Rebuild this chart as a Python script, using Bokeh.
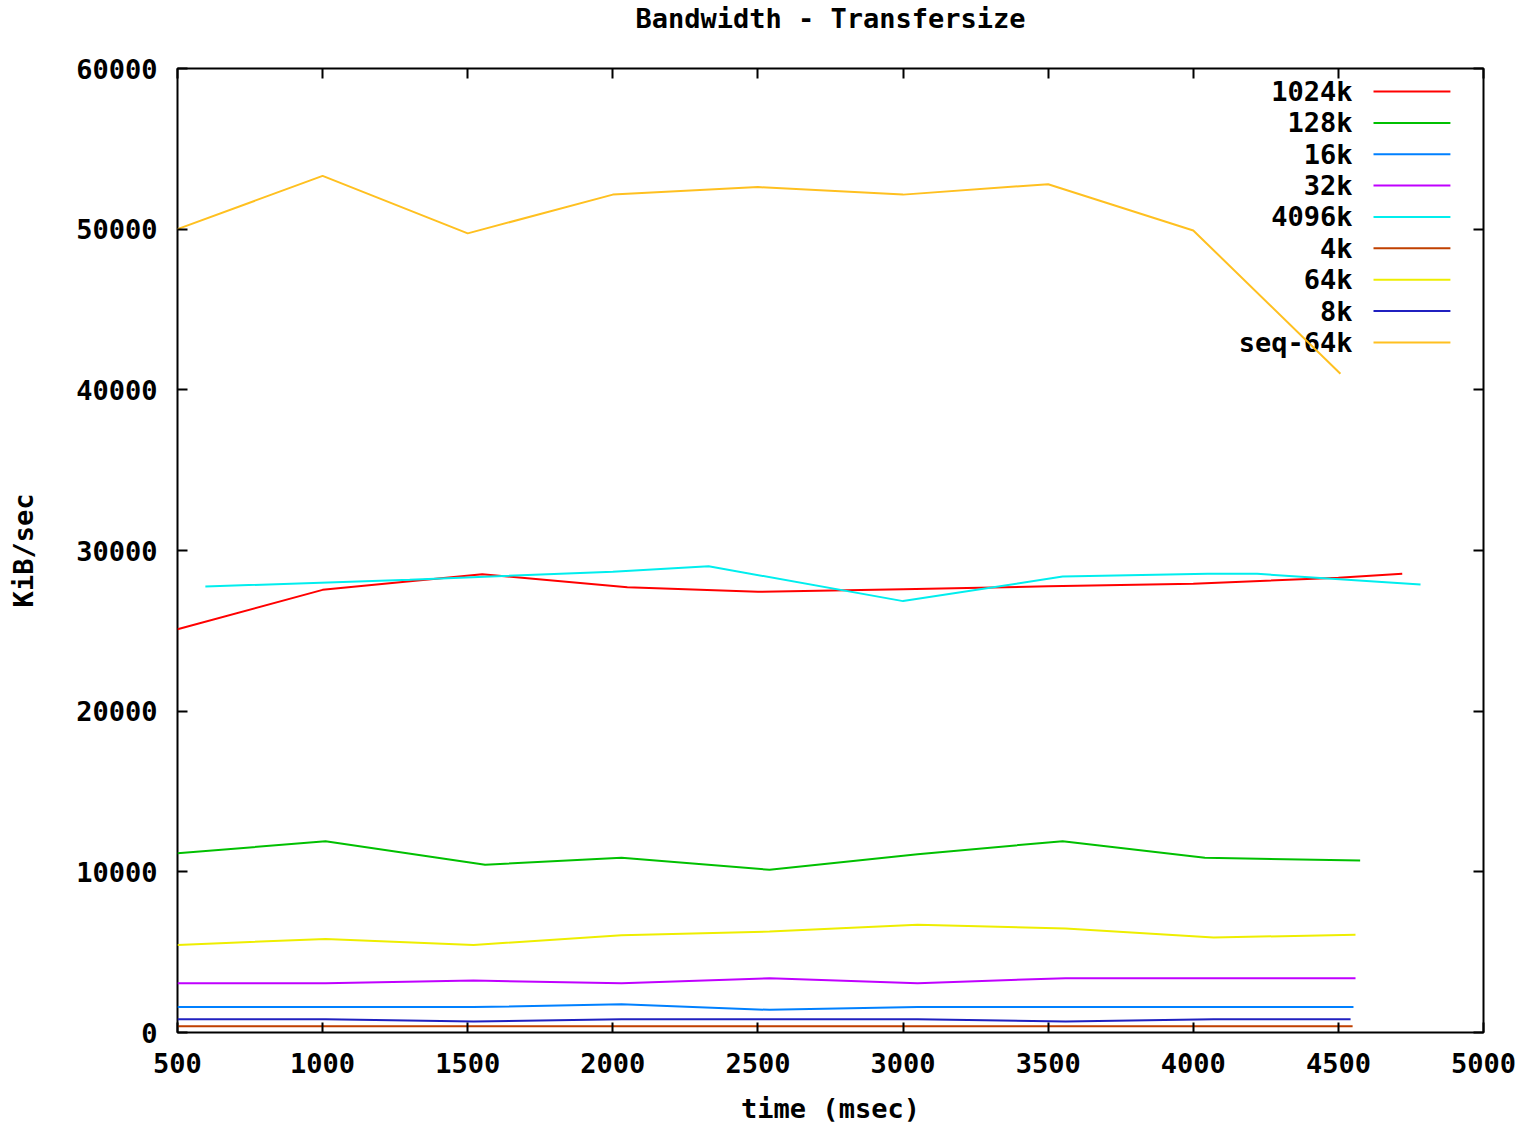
from bokeh.plotting import figure
from bokeh.models import LinearAxis, FixedTicker, Range1d
from bokeh.embed import file_html
from bokeh.resources import INLINE
from bokeh.core.properties import value

# Bandwidth per transfer size, KiB/sec over elapsed time (msec)
series_names = ["1024k", "128k", "16k", "32k", "4096k", "4k", "64k", "8k", "seq-64k"]
series_colors = ["#ff0000", "#00c000", "#0080ff", "#c000ff", "#00eeee",
                 "#c04000", "#eeee00", "#2020c0", "#ffc020"]

t_1024k = [500, 1000, 1550, 2050, 2500, 3000, 3500, 4000, 4500, 4720]
v_1024k = [25100, 27550, 28520, 27720, 27430, 27590, 27770, 27930, 28300, 28550]

t_128k = [500, 1010, 1560, 2030, 2540, 3050, 3550, 4040, 4575]
v_128k = [11150, 11910, 10440, 10870, 10130, 11100, 11910, 10870, 10700]

t_16k = [500, 1010, 1520, 2030, 2540, 3050, 3560, 4070, 4552]
v_16k = [1580, 1580, 1580, 1760, 1410, 1580, 1580, 1580, 1580]

t_32k = [500, 1010, 1520, 2030, 2540, 3050, 3560, 4070, 4559]
v_32k = [3070, 3070, 3230, 3070, 3380, 3070, 3380, 3380, 3380]

t_4096k = [596, 1300, 2000, 2330, 3000, 3550, 4050, 4220, 4783]
v_4096k = [27760, 28180, 28680, 29020, 26850, 28380, 28550, 28550, 27880]

t_4k = [500, 1010, 1520, 2030, 2540, 3050, 3560, 4070, 4549]
v_4k = [390, 390, 390, 390, 390, 390, 390, 390, 390]

t_64k = [500, 1010, 1520, 2030, 2540, 3050, 3560, 4070, 4559]
v_64k = [5450, 5820, 5450, 6050, 6280, 6700, 6470, 5910, 6090]

t_8k = [500, 1010, 1520, 2030, 2540, 3050, 3560, 4070, 4542]
v_8k = [830, 830, 685, 830, 830, 830, 685, 830, 830]

t_seq64k = [500, 1000, 1500, 2000, 2500, 3000, 3500, 4000, 4507]
v_seq64k = [50000, 53320, 49740, 52150, 52620, 52150, 52800, 49920, 41000]

x_ticks = list(range(500, 5001, 500))
y_ticks = list(range(0, 60001, 10000))

times = [t_1024k, t_128k, t_16k, t_32k, t_4096k, t_4k, t_64k, t_8k, t_seq64k]
values = [v_1024k, v_128k, v_16k, v_32k, v_4096k, v_4k, v_64k, v_8k, v_seq64k]

FONT = "DejaVu Sans Mono"
FSIZE = "27px"

p = figure(width=1528, height=1126, output_backend="svg", toolbar_location=None,
           x_range=Range1d(500, 5000), y_range=Range1d(0, 60000),
           min_border_left=177, min_border_right=45,
           min_border_top=68, min_border_bottom=94,
           background_fill_color="white", border_fill_color="white")

p.title.text = "Bandwidth - Transfersize"
p.title.align = "center"
p.title.text_font = FONT
p.title.text_font_size = FSIZE
p.title.text_font_style = "bold"
p.title.text_color = "black"
p.title.standoff = 0

p.grid.visible = False
p.outline_line_color = "black"
p.outline_line_width = 2

def style_axis(ax, ticks, show_labels):
    ax.ticker = FixedTicker(ticks=ticks)
    ax.major_tick_in = 10
    ax.major_tick_out = 0
    ax.minor_tick_in = 0
    ax.minor_tick_out = 0
    ax.major_tick_line_color = "black"
    ax.major_tick_line_width = 2
    ax.axis_line_color = None
    ax.major_label_text_font = FONT
    ax.major_label_text_font_style = "bold"
    ax.axis_label_text_font = FONT
    ax.axis_label_text_font_style = "bold"
    ax.axis_label_text_font_size = FSIZE
    ax.axis_label_text_color = "black"
    if show_labels:
        ax.major_label_text_color = "black"
        ax.major_label_text_font_size = FSIZE
        ax.major_label_standoff = 20
    else:
        # mirror axis: ticks only, no numbers
        ax.major_label_text_color = None
        ax.major_label_text_alpha = 0
        ax.major_label_text_font_size = "0px"
        ax.major_label_standoff = 0

style_axis(p.xaxis[0], x_ticks, True)
style_axis(p.yaxis[0], y_ticks, True)
p.xaxis[0].axis_label = "time (msec)"
p.xaxis[0].axis_label_standoff = 17
p.yaxis[0].axis_label = "KiB/sec"
p.yaxis[0].axis_label_standoff = 34

top_axis = LinearAxis()
style_axis(top_axis, x_ticks, False)
# a blank axis label keeps a gap between the frame and the heading
top_axis.axis_label = " "
top_axis.axis_label_text_font_size = "2px"
top_axis.axis_label_text_color = "white"
top_axis.axis_label_standoff = 30
p.add_layout(top_axis, "above")
right_axis = LinearAxis()
style_axis(right_axis, y_ticks, False)
p.add_layout(right_axis, "right")

# key: right-aligned names followed by a short line sample
key_text_x = 4549
key_line_x0, key_line_x1 = 4621, 4886
key_top, key_step = 58567, 1952
key_rows = [key_top - i * key_step for i in range(len(series_names))]

p.text(x=[key_text_x] * len(series_names), y=key_rows, text=series_names,
       text_align="right", text_baseline="middle",
       text_font=value(FONT), text_font_style="bold", text_font_size=FSIZE,
       text_color="black")
p.segment(x0=[key_line_x0] * len(series_names), y0=key_rows,
          x1=[key_line_x1] * len(series_names), y1=key_rows,
          line_color=series_colors, line_width=2)

for t, v, c in zip(times, values, series_colors):
    p.line(t, v, line_color=c, line_width=2)

open("out.html", "w").write(file_html(p, INLINE))
